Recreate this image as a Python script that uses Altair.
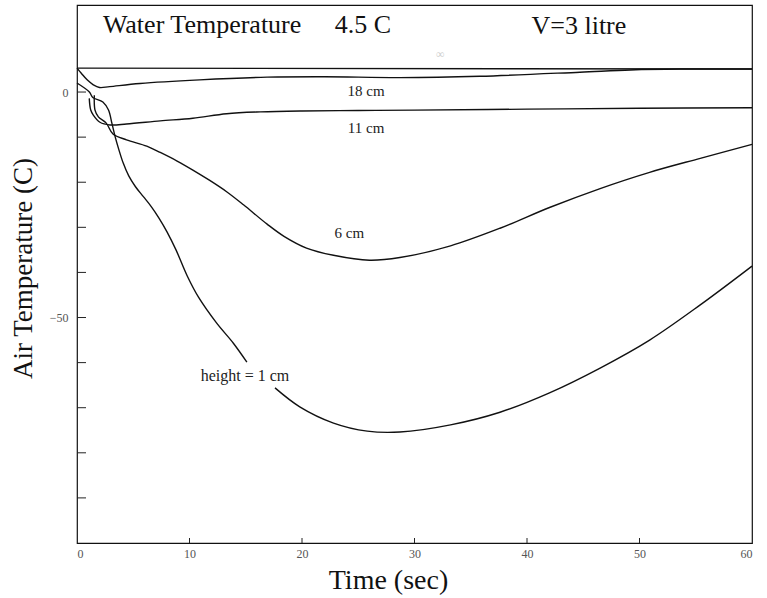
import altair as alt
import pandas as pd

# ---- data ----
water_t = [0, 60]
water_T = [5.3, 5.1]

h18_t = [0, 0.4, 0.9, 1.45, 2.0, 2.9, 5.6, 10.9, 16.9, 22, 28.7, 35.8, 44.7, 49.2, 53.6, 60]
h18_T = [5.3, 4.1, 2.7, 1.6, 1.0, 1.2, 1.9, 2.7, 3.3, 3.4, 3.2, 3.5, 4.4, 4.9, 5.1, 5.1]

h11_t = [1.09, 1.22, 1.45, 2.04, 2.93, 4.4, 7.4, 10.3, 13.3, 16.3, 20, 25, 30, 40, 50, 60]
h11_T = [-1.4, -4.0, -5.1, -6.7, -7.3, -7.1, -6.4, -5.8, -4.8, -4.4, -4.2, -4.1, -4.0, -3.8, -3.6, -3.5]

h6_t = [1.54, 1.6, 1.9, 2.6, 3.2, 4.4, 6.2, 7.4, 8.9, 10.3, 11.8, 13.3, 14.8, 16.9, 18.4,
        20.4, 22.8, 26.0, 28.7, 33.2, 37.6, 42.0, 46.5, 50.9, 55.4, 60]
h6_T = [-0.7, -4.0, -5.5, -6.9, -9.3, -10.6, -12.0, -13.4, -15.3, -17.3, -19.6, -22.1, -25.0,
        -29.3, -32.0, -34.6, -36.2, -37.3, -36.7, -34.1, -30.2, -25.6, -21.4, -17.8, -14.7, -11.6]

h1a_t = [0, 1.1, 1.4, 2.3, 2.8, 3.1, 3.4, 3.7, 4.1, 4.6, 5.2, 5.9, 6.6, 7.3, 8.0, 8.8,
         9.8, 10.8, 12.4, 13.9, 15.1]
h1a_T = [2.0, 0, -1.2, -2.2, -4.0, -6.9, -10.0, -12.6, -15.7, -18.6, -21.0, -23.2, -25.4,
         -28.0, -31.0, -35.0, -40.8, -45.5, -51.2, -55.7, -59.9]
h1b_t = [17.6, 19.8, 22.8, 25.8, 28.7, 33.2, 37.6, 42.0, 46.5, 50.9, 55.4, 60]
h1b_T = [-65.6, -69.8, -73.4, -75.2, -75.4, -73.8, -71.0, -66.7, -61.2, -55.0, -47.2, -38.6]

x_ticks = [0, 10, 20, 30, 40, 50, 60]
y_labels = [0, -50]
y_minor = [0, -10, -20, -30, -40, -50, -60, -70, -80, -90]
x_minor = [10, 20, 30, 40, 50]

curve_labels = ["18 cm", "11 cm", "6 cm"]
curve_label_t = [25.7, 25.7, 24.2]
curve_label_T = [0.2, -8.0, -31.3]

# ---- tables ----
def seg(name, t, T):
    return pd.DataFrame({"t": t, "T": T, "seg": name})

curves = pd.concat([
    seg("water", water_t, water_T),
    seg("18", h18_t, h18_T),
    seg("11", h11_t, h11_T),
    seg("6", h6_t, h6_T),
    seg("1a", h1a_t, h1a_T),
    seg("1b", h1b_t, h1b_T),
], ignore_index=True)

lab_df = pd.DataFrame({"t": curve_label_t, "T": curve_label_T, "txt": curve_labels})
hlab_df = pd.DataFrame({"t": [11.0], "T": [-63.0], "txt": ["height = 1 cm"]})
head_df = pd.DataFrame({"t": [2.3, 22.9, 40.4], "T": [14.9, 14.9, 14.7],
                        "txt": ["Water Temperature", "4.5  C", "V=3  litre"]})
faint_df = pd.DataFrame({"t": [32.3], "T": [8.4], "txt": ["∞"]})
ytick_df = pd.DataFrame({"T": y_minor})
xtick_df = pd.DataFrame({"t": x_minor})

FONT = "Liberation Serif"

x_enc = alt.X("t:Q", scale=alt.Scale(domain=[0, 60], nice=False, zero=False),
              axis=alt.Axis(values=x_ticks, title="Time  (sec)", grid=False, domain=False,
                            tickSize=0, labelPadding=5, labelFont=FONT, labelFontSize=12,
                            labelColor="#555", titleFont=FONT, titleFontSize=28,
                            titleFontWeight="normal", titleColor="#111",
                            titleX=311, titleY=45, titleBaseline="alphabetic",
                            titleAlign="center"))
y_enc = alt.Y("T:Q", scale=alt.Scale(domain=[-100, 19.3], nice=False, zero=False),
              axis=alt.Axis(values=y_labels, title="Air Temperature  (C)", grid=False,
                            domain=False, tickSize=0, labelPadding=9, labelFont=FONT,
                            labelFontSize=12, labelColor="#555", titleFont=FONT,
                            titleFontSize=27, titleFontWeight="normal", titleColor="#111",
                            titleAngle=270, titleX=-46, titleY=263,
                            titleBaseline="alphabetic", titleAlign="center"))

lines = alt.Chart(curves).mark_line(color="#111", strokeWidth=1.4,
                                    interpolate="catmull-rom").encode(
    x=x_enc, y=y_enc, detail="seg:N", order="t:Q")

labels = alt.Chart(lab_df).mark_text(font=FONT, fontSize=15, color="#222",
                                     baseline="middle", align="center").encode(
    x=x_enc, y=y_enc, text="txt:N")
hlabel = alt.Chart(hlab_df).mark_text(font=FONT, fontSize=16, color="#222",
                                      baseline="middle", align="left").encode(
    x=x_enc, y=y_enc, text="txt:N")
header = alt.Chart(head_df).mark_text(font=FONT, fontSize=26, color="#111",
                                      baseline="middle", align="left").encode(
    x=x_enc, y=y_enc, text="txt:N")
faint = alt.Chart(faint_df).mark_text(font=FONT, fontSize=12, color="#ccc",
                                      baseline="middle", align="center").encode(
    x=x_enc, y=y_enc, text="txt:N")

yticks = alt.Chart(ytick_df).mark_rule(color="#222", strokeWidth=1).encode(
    y=y_enc, x=alt.value(0), x2=alt.value(9))
xticks = alt.Chart(xtick_df).mark_rule(color="#222", strokeWidth=1).encode(
    x=x_enc, y=alt.value(538), y2=alt.value(533))

chart = alt.layer(lines, labels, hlabel, header, faint, yticks, xticks).properties(
    width=675, height=538,
    autosize=alt.AutoSizeParams(type="none"),
    padding={"left": 77, "top": 5, "right": 15, "bottom": 55},
    background="white",
).configure_view(stroke="#111", strokeWidth=1.2)

chart.save("out.html", embed_options={"renderer": "svg", "actions": False})
